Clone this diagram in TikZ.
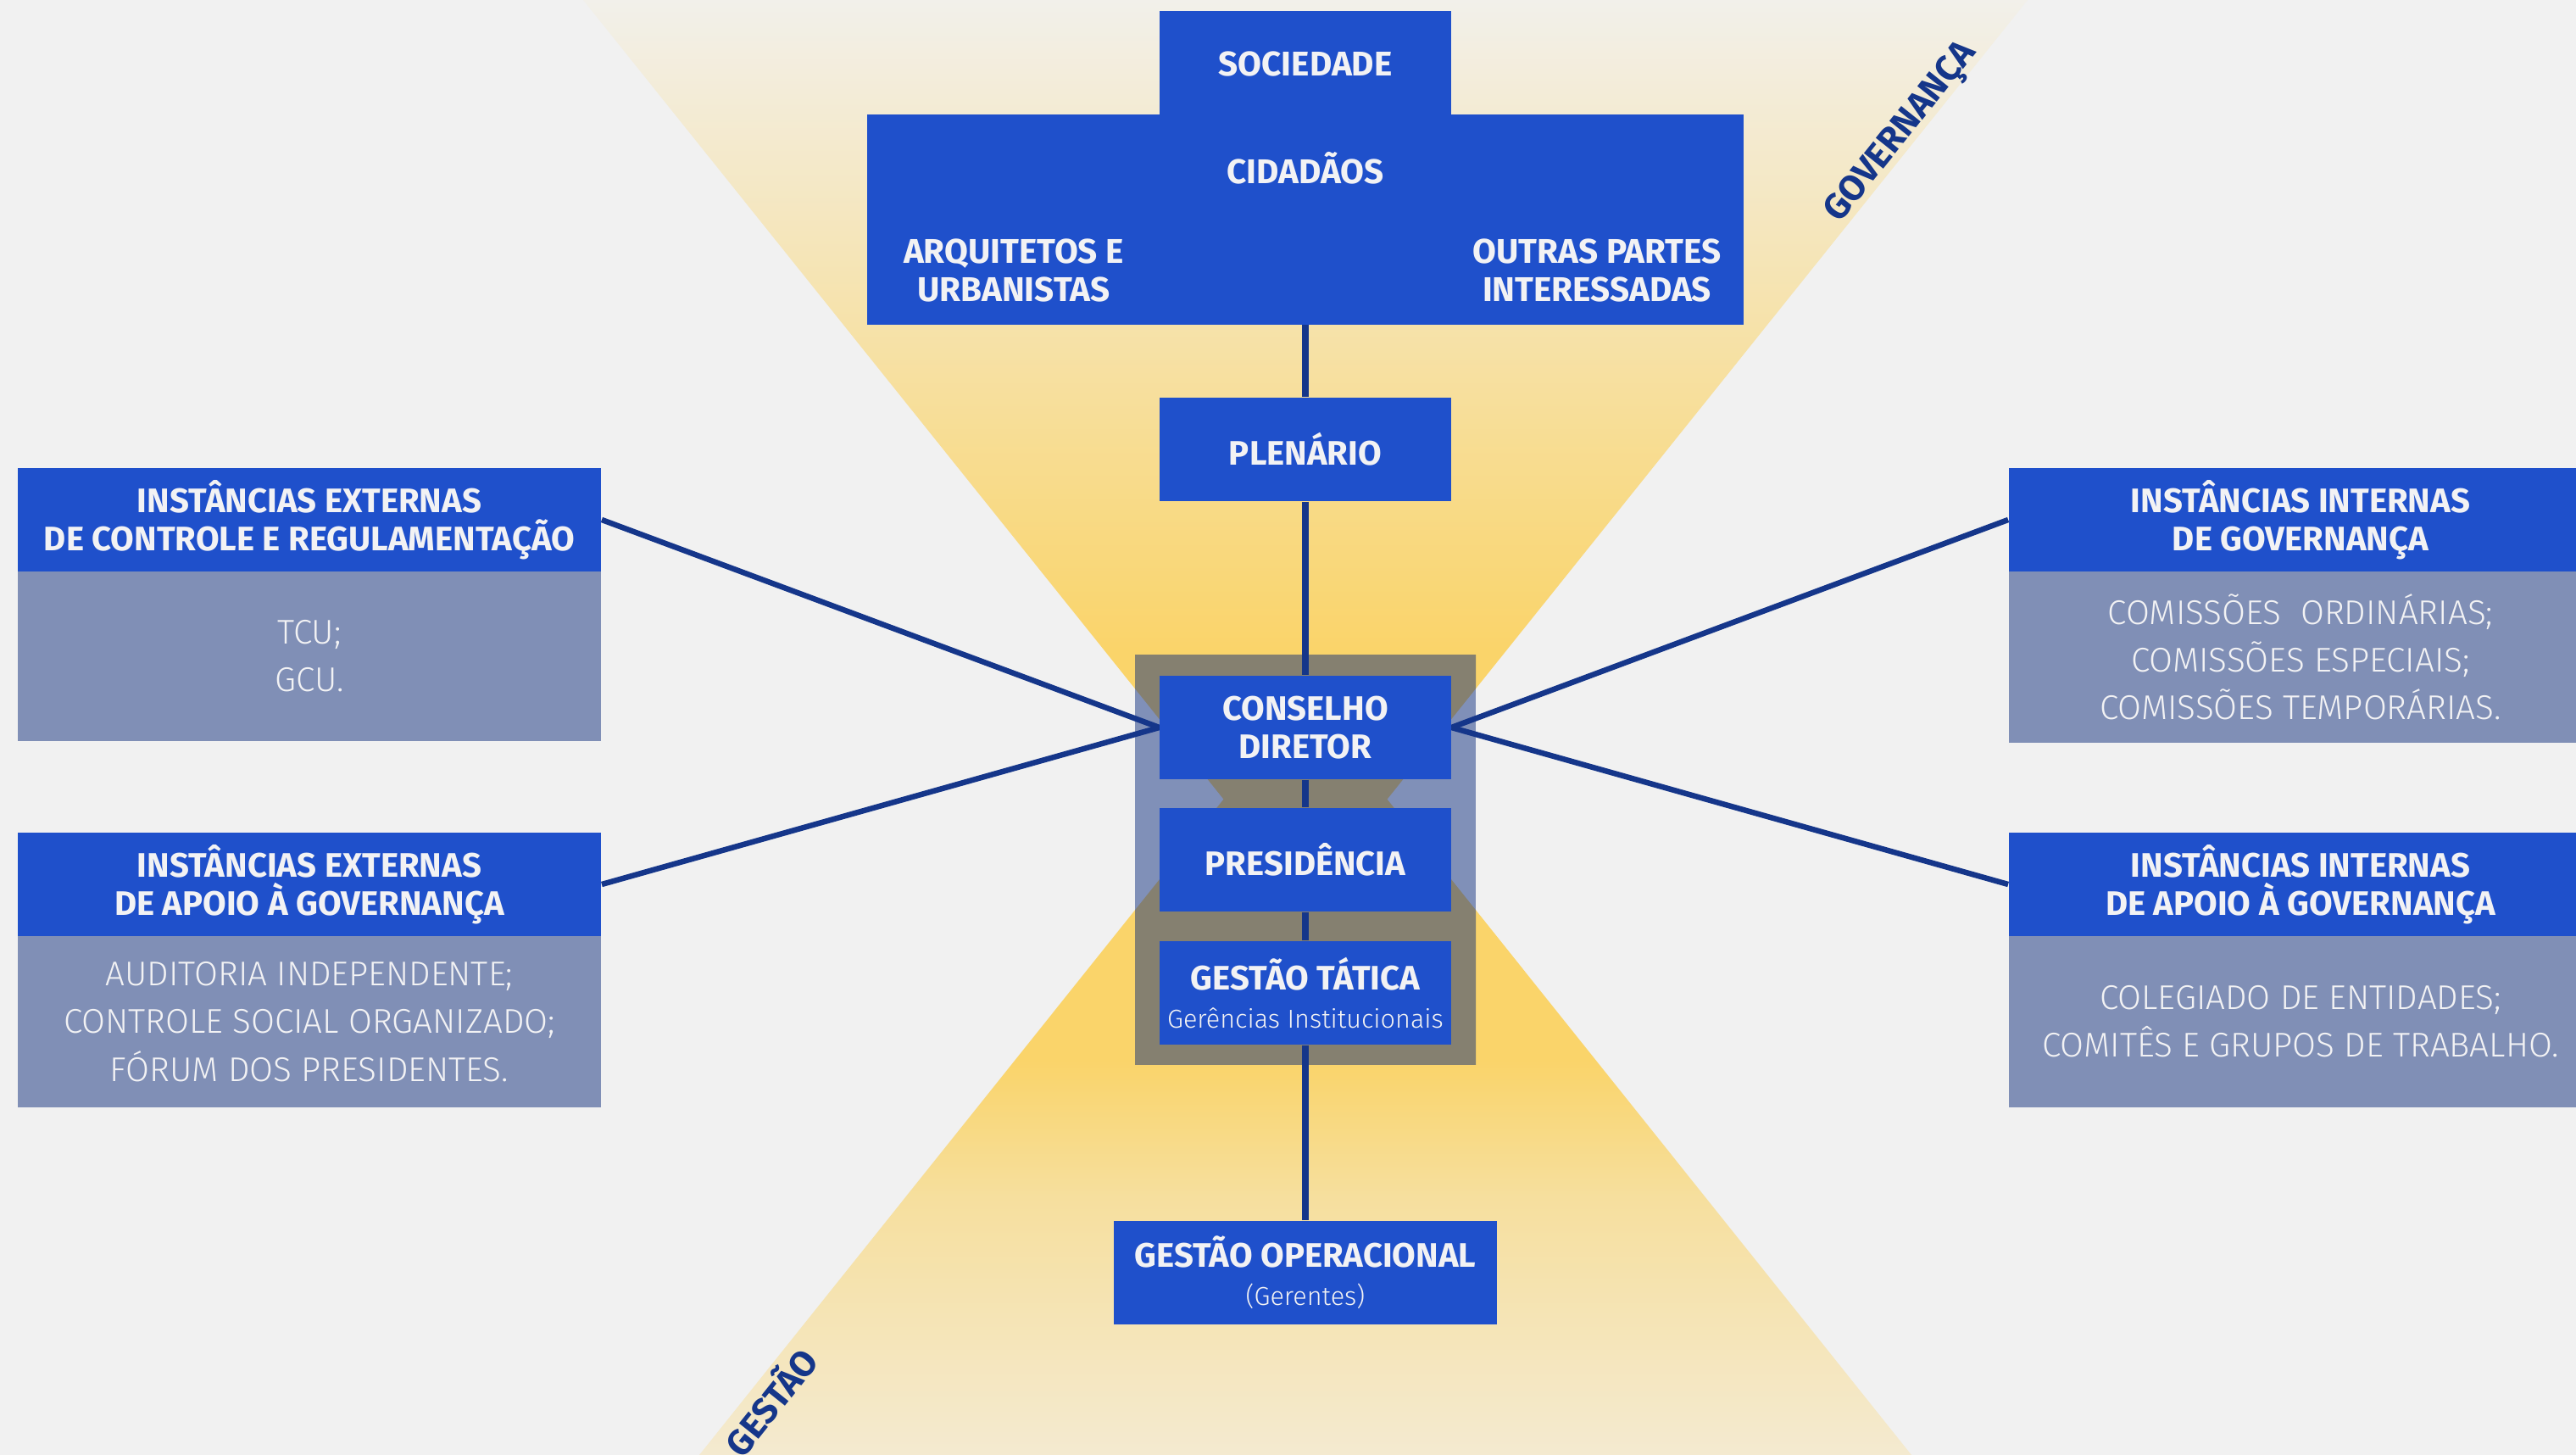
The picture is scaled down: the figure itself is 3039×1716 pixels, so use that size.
\documentclass[tikz,border=0pt]{standalone}
\usepackage{fontspec}
\setmainfont{Fira Sans}
\newfontfamily\lightfont{Fira Sans Light}
\newcommand\subtxt{\lightfont\mdseries\fontsize{8.7}{10}\selectfont}
\definecolor{bgc}{HTML}{F1F1F1}
\definecolor{boxblue}{HTML}{1F50CB}
\definecolor{bodyc}{HTML}{808FB6}
\definecolor{navy}{HTML}{15368A}
\definecolor{txt}{HTML}{F2F2F4}
\definecolor{fanY}{HTML}{FAD46A}
\definecolor{fanTop}{HTML}{F2F0EA}
\definecolor{fanMid}{HTML}{F6DF9E}
\definecolor{fanLow}{HTML}{F4EAD0}
\definecolor{grayBlue}{HTML}{8090B8}
\definecolor{grayOl}{HTML}{858070}
\pgfdeclareverticalshading{upfan}{100bp}{color(0bp)=(fanY); color(39bp)=(fanY); color(75bp)=(fanTop); color(100bp)=(fanTop)}
\pgfdeclareverticalshading{lowfan}{100bp}{color(0bp)=(fanLow); color(25bp)=(fanLow); color(42bp)=(fanMid); color(51bp)=(fanY); color(100bp)=(fanY)}
\pgfdeclarelayer{back}
\pgfdeclarelayer{mid}
\pgfsetlayers{back,mid,main}
\begin{document}
\begin{tikzpicture}[x=0.01cm,y=-0.01cm,
  blk/.style={fill=boxblue,text=txt,inner sep=0pt,align=center,font=\fontsize{11.4}{12.7}\selectfont\bfseries},
  midbox/.style={blk,minimum width=3.43cm,minimum height=1.22cm},
  plain/.style={text=txt,inner sep=0pt,align=center,font=\fontsize{11.5}{12.7}\selectfont\bfseries},
  hdr/.style={fill=boxblue,text=txt,inner sep=0pt,align=center,minimum width=6.88cm,minimum height=1.22cm,font=\fontsize{11.4}{12.7}\selectfont\bfseries},
  bdy/.style={fill=bodyc,text=txt,inner sep=0pt,align=center,minimum width=6.88cm,minimum height=2.01cm,font=\lightfont\fontsize{11.5}{16}\selectfont},
  conn/.style={draw=navy,line width=0.065cm},
  vline/.style={draw=navy,line width=0.08cm},
  diag/.style={text=navy,font=\fontsize{12}{12}\selectfont\bfseries,rotate=51.34,inner sep=0pt}
]
\useasboundingbox (0,0) rectangle (3039,1716);
\begin{pgfonlayer}{back}
\fill[bgc] (0,0) rectangle (3039,1716);
\shade[shading=upfan] (688,0) -- (2392,0) -- (1540,1063) -- cycle;
\shade[shading=lowfan] (1540,822) -- (2255,1716) -- (825,1716) -- cycle;
\fill[grayBlue] (1339,773) rectangle (1741,1255);
\begin{scope}
\clip (1339,773) rectangle (1741,1255);
\fill[grayOl] (688,0) -- (2392,0) -- (1540,1063) -- cycle;
\fill[grayOl] (1540,822) -- (2255,1716) -- (825,1716) -- cycle;
\end{scope}
\end{pgfonlayer}

% top block
\node[blk,minimum width=10.33cm,minimum height=2.47cm] (cid) at (1540,259) {};
\node[blk,minimum width=3.43cm,minimum height=1.24cm,font=\fontsize{11.5}{12.7}\selectfont\bfseries] (soc) at (1540,75) {SOCIEDADE};
\node[plain] (tcid) at (1540,198) {CIDADÃOS};
\node[plain] (tarq) at (1196,319) {ARQUITETOS E\\URBANISTAS};
\node[plain] (tout) at (1884,319) {OUTRAS PARTES\\INTERESSADAS};

% central column
\node[midbox] (plen) at (1540,530) {PLENÁRIO};
\node[midbox] (cons) at (1540,858) {CONSELHO\\DIRETOR};
\node[midbox] (pres) at (1540,1014) {PRESIDÊNCIA};
\node[midbox] (tat) at (1540,1171) {GESTÃO TÁTICA\\{\subtxt Gerências Institucionais}};
\node[blk,minimum width=4.52cm,minimum height=1.22cm] (oper) at (1540,1501) {GESTÃO OPERACIONAL\\{\subtxt (Gerentes)}};

% left boxes
\node[hdr] (lh1) at (365,613) {INSTÂNCIAS EXTERNAS\\DE CONTROLE E REGULAMENTAÇÃO};
\node[bdy,minimum height=2.0cm] (lb1) at (365,774) {TCU;\\GCU.};
\node[hdr] (lh2) at (365,1043) {INSTÂNCIAS EXTERNAS\\DE APOIO À GOVERNANÇA};
\node[bdy] (lb2) at (365,1205) {AUDITORIA INDEPENDENTE;\\CONTROLE SOCIAL ORGANIZADO;\\FÓRUM DOS PRESIDENTES.};

% right boxes (run past the right edge)
\node[hdr] (rh1) at (2714,613) {INSTÂNCIAS INTERNAS\\DE GOVERNANÇA};
\node[bdy,minimum height=2.02cm] (rb1) at (2714,775) {COMISSÕES~ ORDINÁRIAS;\\COMISSÕES ESPECIAIS;\\COMISSÕES TEMPORÁRIAS.};
\node[hdr] (rh2) at (2714,1043) {INSTÂNCIAS INTERNAS\\DE APOIO À GOVERNANÇA};
\node[bdy] (rb2) at (2714,1205) {COLEGIADO DE ENTIDADES;\\COMITÊS E GRUPOS DE TRABALHO.};

% diagonal labels
\node[diag] (gov) at (2244,157) {GOVERNANÇA};
\node[diag] (ges) at (907,1652) {GESTÃO};

\begin{pgfonlayer}{mid}
\draw[vline] (cid.south) -- (plen.north) (plen.south) -- (cons.north)
  (cons.south) -- (pres.north) (pres.south) -- (tat.north) (tat.south) -- (oper.north);
\draw[conn] (lh1.east) -- (cons.west);
\draw[conn] (lh2.east) -- (cons.west);
\draw[conn] (rh1.west) -- (cons.east);
\draw[conn] (rh2.west) -- (cons.east);
\end{pgfonlayer}
\end{tikzpicture}
\end{document}
